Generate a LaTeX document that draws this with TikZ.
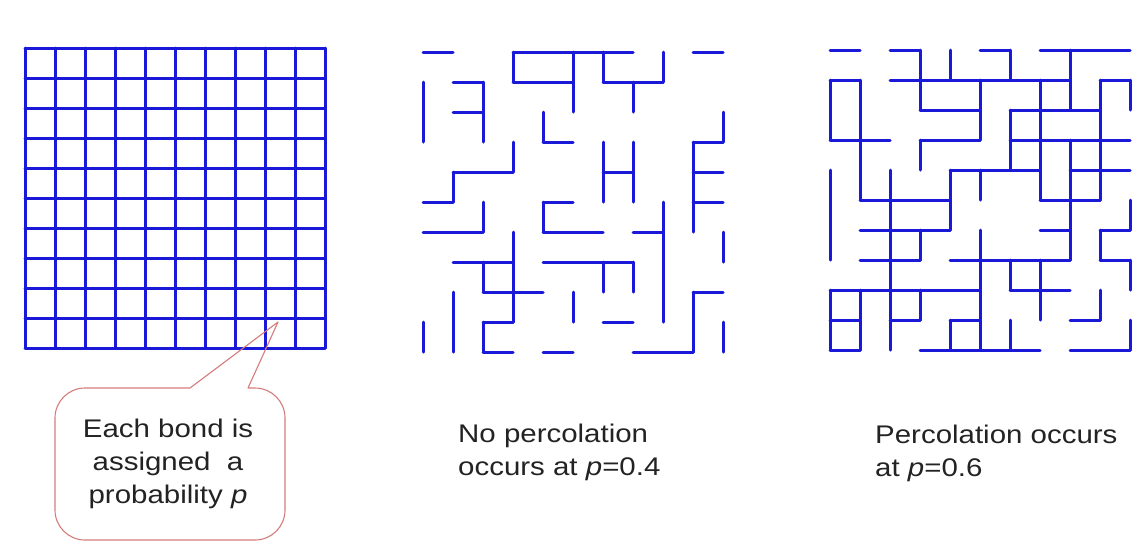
\documentclass[tikz,border=0pt]{standalone}
\usepackage{fontspec}
\setmainfont{Liberation Sans}[FakeStretch=1.155]
\usetikzlibrary{positioning}
\definecolor{bondblue}{RGB}{25,25,215}
\definecolor{notered}{RGB}{214,124,124}
\definecolor{labelgray}{RGB}{35,35,35}

\begin{document}
\begin{tikzpicture}[
  x=1pt, y=-1pt,
  font=\fontsize{25.5}{33}\selectfont,
  bond/.style={draw=bondblue, line width=3pt, line cap=round},
  lattice/.style={x=30pt, y=-30pt},
  label/.style={align=left, text=labelgray, inner sep=0pt},
  note/.style={draw=notered, line width=1.1pt, line join=round}
]
\useasboundingbox (0,0) rectangle (1147,550);

% full lattice
\begin{scope}[shift={(25,48)}, lattice]
  \foreach \k in {0,...,10} {
    \draw[bond] (\k,0) -- (\k,10);
    \draw[bond] (0,\k) -- (10,\k);
  }
\end{scope}

% p = 0.4
\begin{scope}[shift={(423,52)}, lattice]
  % horizontal bonds, row by row
  \foreach \j/\cols in {0/{0,3,4,5,6,9}, 1/{1,3,4,6,7}, 2/{1}, 3/{4,9}, 4/{1,2,6,9}, 5/{0,4,9}, 6/{0,1,4,5,7}, 7/{1,2,4,5,6}, 8/{2,3,9}, 9/{2,6}, 10/{2,4,7,8}}
    \foreach \i in \cols \draw[bond] (\i,\j) -- ++(1,0);
  % vertical bonds, column by column
  \foreach \i/\rows in {0/{1,2,9}, 1/{4,8,9}, 2/{1,2,5,7,9}, 3/{0,3,6,7,8}, 4/{2,5}, 5/{0,1,8}, 6/{0,3,4,7}, 7/{1,3,4,7}, 8/{0,5,6,7,8}, 9/{3,4,5,8,9}, 10/{2,6,9}}
    \foreach \j in \rows \draw[bond] (\i,\j) -- ++(0,1);
\end{scope}

% p = 0.6
\begin{scope}[shift={(830,50)}, lattice]
  \foreach \j/\cols in {0/{0,2,5,7,8,9}, 1/{0,2,3,4,5,6,7,9}, 2/{3,4,6,7,8}, 3/{0,1,3,4,6,7,8,9}, 4/{4,5,6,8,9}, 5/{1,2,3,7,8}, 6/{1,2,3,7,9}, 7/{1,2,4,5,6,7,9}, 8/{0,1,2,3,4,6,7}, 9/{0,2,4,8}, 10/{0,3,4,5,6,8,9}}
    \foreach \i in \cols \draw[bond] (\i,\j) -- ++(1,0);
  \foreach \i/\rows in {0/{1,2,4,5,6,8,9}, 1/{1,2,3,4,8,9}, 2/{4,5,6,7,8,9}, 3/{0,1,3,6,8}, 4/{0,4,5,9}, 5/{1,2,4,6,7,8,9}, 6/{0,2,3,7,9}, 7/{1,2,3,4,7,8}, 8/{0,1,3,4,5,6}, 9/{1,2,3,4,6,8}, 10/{1,5,7,9}}
    \foreach \j in \rows \draw[bond] (\i,\j) -- ++(0,1);
\end{scope}

% labels
\node[label, anchor=base west] (nopercol) at (458,475) {No percolation\\occurs at {\itshape p}=0.4};
\node[label, anchor=base west] (percol) at (875,476) {Percolation occurs\\at {\itshape p}=0.6};

% speech bubble
\node[label, align=center] (notetext) at (168,464) {Each bond is\\assigned\ \ a\\probability {\itshape p}};
\coordinate (tip) at (278,322);
\draw[note] (190,388) -- (tip) -- (248,388) -- (252,388) [rounded corners=30pt] -- (285,388) -- (285,540) -- (55,540) -- (55,388) -- (150,388) [sharp corners] -- (190,388);
\end{tikzpicture}
\end{document}
